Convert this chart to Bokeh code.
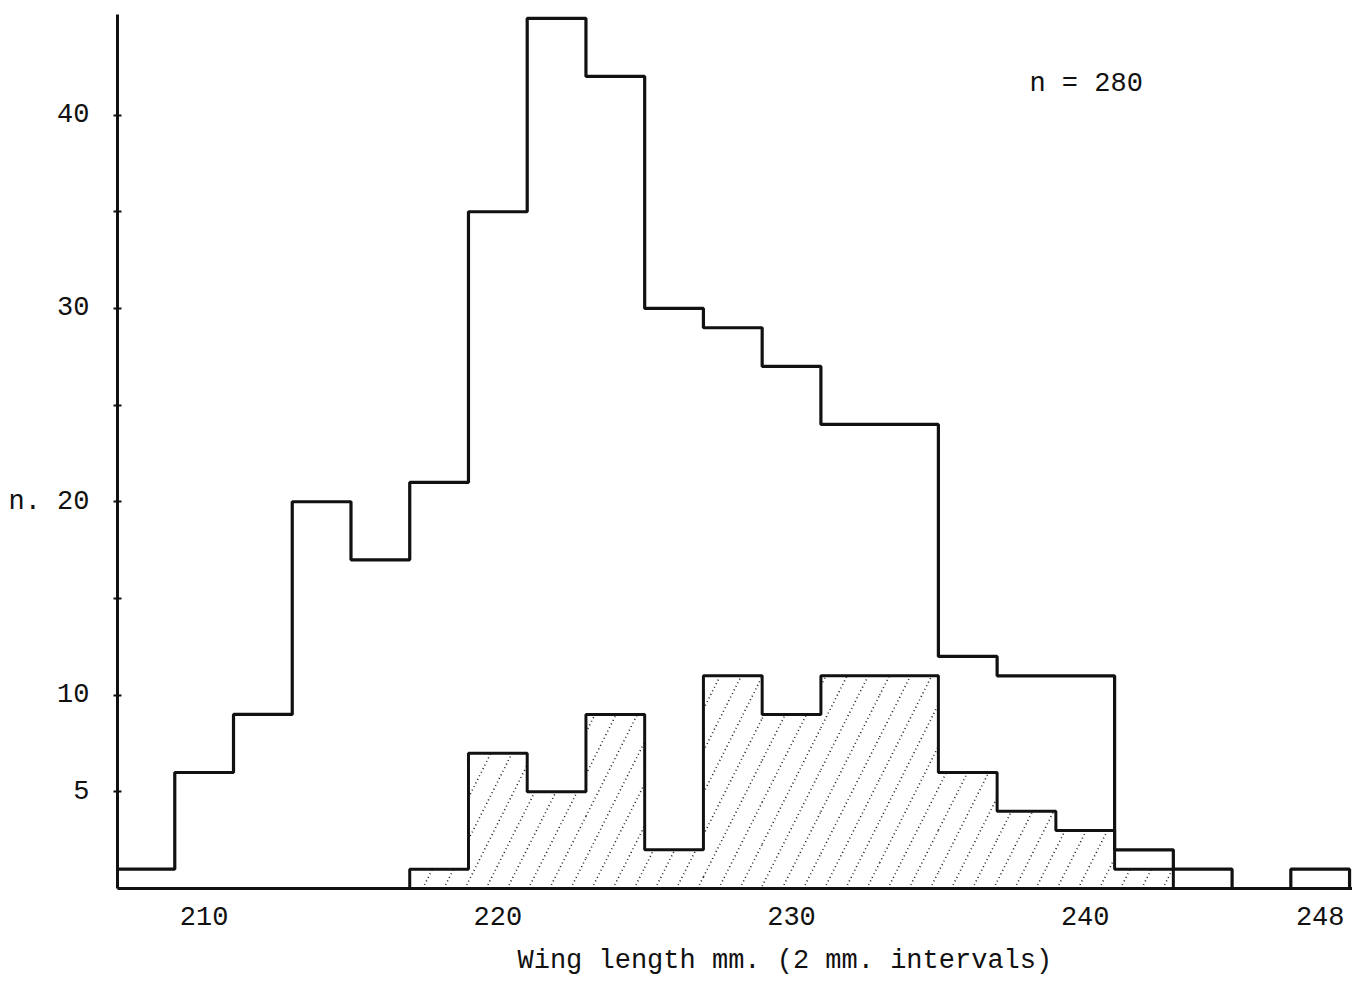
import math
from bokeh.plotting import figure
from bokeh.models import Range1d, FixedTicker, Label, Title
from bokeh.embed import file_html
from bokeh.resources import INLINE

# ---- data ----
bin_edges = list(range(207, 251, 2))          # 207 ... 249, 2 mm intervals
all_counts = [1, 6, 9, 20, 17, 21, 35, 45, 42, 30, 29, 27, 24, 24, 12, 11, 11, 2, 1, 0, 1]
hatched_edges = list(range(217, 245, 2))      # 217 ... 243
hatched_counts = [1, 7, 5, 9, 2, 11, 9, 11, 11, 6, 4, 3, 1]
x_ticks = [210, 220, 230, 240, 248]
y_ticks = [5, 10, 15, 20, 25, 30, 35, 40]
y_labels = {5: "5", 10: "10", 15: "", 20: "n. 20", 25: "", 30: "30", 35: "", 40: "40"}
n_note = "n = 280"
x_title = "Wing length  mm. (2 mm. intervals)"

FONT = "Liberation Mono"
INK = "#111111"


def step_path(edges, counts):
    xs, ys = [edges[0]], [0]
    for i, c in enumerate(counts):
        xs += [edges[i], edges[i + 1]]
        ys += [c, c]
    xs.append(edges[-1])
    ys.append(0)
    return xs, ys


p = figure(width=1352, height=992, output_backend="svg", toolbar_location=None,
           x_range=Range1d(207.05, 249.1), y_range=Range1d(0, 45.2),
           min_border_left=117, min_border_right=0, min_border_top=14, min_border_bottom=102)
p.outline_line_color = None
p.grid.visible = False
p.background_fill_color = "white"

# hatching of the inner histogram (steep dotted diagonals)
slope = 0.332   # mm per count
gap = 0.72      # mm between hatch lines
hx0, hy0, hx1, hy1 = [], [], [], []
for i, c in enumerate(hatched_counts):
    a, b = hatched_edges[i], hatched_edges[i + 1]
    if c <= 0:
        continue
    k = math.ceil((a - slope * c) / gap)
    while k * gap < b:
        cc = k * gap
        ylo = max(0.0, (a - cc) / slope)
        yhi = min(float(c), (b - cc) / slope)
        if yhi > ylo:
            hx0.append(cc + slope * ylo); hy0.append(ylo)
            hx1.append(cc + slope * yhi); hy1.append(yhi)
        k += 1
p.segment(hx0, hy0, hx1, hy1, line_color="#222222", line_width=1.6, line_dash="1 3")

hx, hy = step_path(hatched_edges, hatched_counts)
p.line(hx, hy, line_color=INK, line_width=3.0)

ax, ay = step_path(bin_edges, all_counts)
p.line(ax, ay, line_color=INK, line_width=3.2)

# axes
xa = p.xaxis[0]
xa.ticker = FixedTicker(ticks=x_ticks)
xa.axis_line_width = 3
xa.axis_line_color = INK
xa.major_tick_in = 0
xa.major_tick_out = 0
xa.minor_tick_line_color = None
xa.major_label_standoff = 18
xa.major_label_text_font = FONT
xa.major_label_text_font_size = "27px"
xa.major_label_text_color = INK

ya = p.yaxis[0]
ya.ticker = FixedTicker(ticks=y_ticks)
ya.major_label_overrides = y_labels
ya.axis_line_width = 3
ya.axis_line_color = INK
ya.major_tick_in = 4
ya.major_tick_out = 4
ya.major_tick_line_width = 2
ya.major_tick_line_color = INK
ya.minor_tick_line_color = None
ya.major_label_standoff = 24
ya.major_label_text_font = FONT
ya.major_label_text_font_size = "27px"
ya.major_label_text_color = INK

p.add_layout(Label(x=238.1, y=41.6, text=n_note, text_font=FONT, text_font_size="27px",
                   text_color=INK, text_align="left", text_baseline="middle"))
p.add_layout(Title(text=x_title, align="left", offset=400, standoff=33,
                   text_font=FONT, text_font_size="27px", text_font_style="normal",
                   text_color=INK), "below")

open("out.html", "w").write(file_html(p, INLINE))
